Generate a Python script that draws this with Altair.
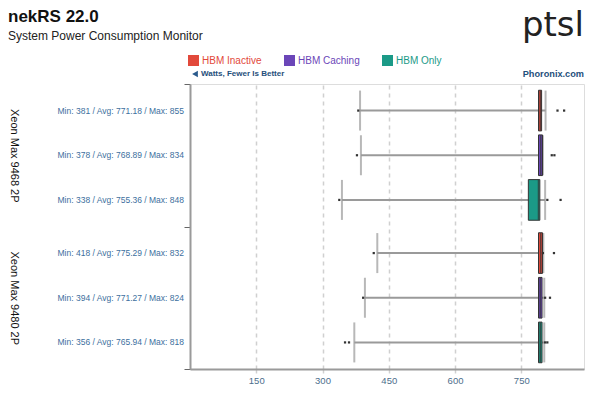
import altair as alt
import pandas as pd

# ---- data ----
systems = ["Xeon Max 9468 2P", "Xeon Max 9480 2P"]
series_names = ["HBM Inactive", "HBM Caching", "HBM Only"]
series_colors = ["#e2493b", "#6b46b8", "#1b9a87"]

row_system = ["Xeon Max 9468 2P"] * 3 + ["Xeon Max 9480 2P"] * 3
row_series = series_names * 2
mins = [381, 378, 338, 418, 394, 356]
avgs = [771.18, 768.89, 755.36, 775.29, 771.27, 765.94]
maxs = [855, 834, 848, 832, 824, 818]
whisk_lo = [385, 387, 344, 424, 396, 372]
q1 = [789, 789, 766, 789, 789, 789]
med = [793, 794, 789, 794, 793, 793]
q3 = [796, 798, 792, 798, 797, 797]
whisk_hi = [805, 799, 804, 800, 802, 802]
outliers = [
    [381, 832, 847],
    [378, 819, 825],
    [338, 809, 839],
    [416, 799, 824],
    [392, 804, 815],
    [351, 360, 804, 809],
]
x_ticks = [150, 300, 450, 600, 750]

labels = [f"Min: {a} / Avg: {b:.2f} / Max: {c}" for a, b, c in zip(mins, avgs, maxs)]

df = pd.DataFrame({
    "system": row_system, "series": row_series, "label": labels,
    "lo": whisk_lo, "q1": q1, "med": med, "q3": q3, "hi": whisk_hi,
})
out_df = pd.DataFrame(
    [{"system": row_system[i], "series": row_series[i], "v": v}
     for i, vals in enumerate(outliers) for v in vals]
)

FONT = "Liberation Sans"
GRID = "#d0d0d0"

xscale = alt.Scale(domain=[0, 892], nice=False, zero=False)
X = lambda f: alt.X(f"{f}:Q", scale=xscale, title=None,
                    axis=alt.Axis(values=x_ticks, grid=True, gridDash=[4, 4], gridColor=GRID,
                                  gridWidth=1.5, tickColor=GRID, tickWidth=1.5, tickSize=4,
                                  labelPadding=2, labelFont=FONT, labelFontSize=9.5,
                                  labelColor="#4d6e8c", domainColor="#9a9a9a", domainWidth=2))
Y = alt.Y("system:N", sort=systems, title=None,
          scale=alt.Scale(paddingInner=0, paddingOuter=0),
          axis=alt.Axis(labelAngle=90, labelAlign="center", labelBaseline="middle",
                        labelPadding=171, labelFont=FONT, labelFontSize=11, labelColor="#111",
                        tickBand="extent", tickSize=6, tickColor="#666", tickWidth=1,
                        domainColor="#9a9a9a", domainWidth=2, grid=False))
YO = alt.YOffset("series:N", sort=series_names,
                 scale=alt.Scale(paddingInner=0.09, paddingOuter=0.14))

base = alt.Chart(df).encode(y=Y, yOffset=YO)

whisker = base.mark_rule(color="#9a9a9a", strokeWidth=2).encode(x=X("lo"), x2="hi")
cap_lo = base.mark_tick(color="#9a9a9a", thickness=2, size=40).encode(x=X("lo"))
cap_hi = base.mark_tick(color="#9a9a9a", thickness=2, size=40).encode(x=X("hi"))
box = base.mark_bar(stroke="#333333", strokeWidth=1).encode(
    x=X("q1"), x2="q3",
    color=alt.Color("series:N", sort=series_names,
                    scale=alt.Scale(domain=series_names, range=series_colors),
                    legend=alt.Legend(
                        title=None, orient="none", legendX=-2, legendY=-29,
                        direction="horizontal", symbolType="square", symbolSize=121,
                        symbolStrokeWidth=0, labelFont=FONT, labelFontSize=10,
                        labelOffset=3, columnPadding=22,
                        labelColor=alt.ExprRef(
                            expr="datum.label == 'HBM Inactive' ? '#e2493b' : "
                                 "(datum.label == 'HBM Caching' ? '#6b46b8' : '#1b9a87')"))))
median = base.mark_tick(color="#333333", thickness=1.5, size=40).encode(x=X("med"))
pts = alt.Chart(out_df).mark_square(size=5, color="#333333", opacity=1).encode(
    x=X("v"), y=Y, yOffset=YO)
row_labels = base.mark_text(align="right", baseline="middle", font=FONT, fontSize=8.5,
                            color="#3d6f9e").encode(x=alt.value(-6), text="label:N")

note_df = pd.DataFrame({"a": [1]})
note = alt.Chart(note_df)
watts = note.mark_text(text="Watts, Fewer Is Better", align="left", baseline="middle",
                       font=FONT, fontSize=8, fontWeight="bold", color="#1f4f7b").encode(
    x=alt.value(11), y=alt.value(-10))
arrow = note.mark_point(shape="triangle-left", filled=True, size=45, color="#2a5a8c",
                        opacity=1).encode(x=alt.value(5), y=alt.value(-10))
phoronix = note.mark_text(text="Phoronix.com", align="right", baseline="middle",
                          font=FONT, fontSize=9.2, fontWeight="bold", color="#1f4f7b").encode(
    x=alt.value(394), y=alt.value(-10))
logo = note.mark_text(text="ptsl", align="right", baseline="alphabetic", font="DejaVu Sans",
                      fontSize=34, color="#222222").encode(x=alt.value(394), y=alt.value(-48))

chart = alt.layer(whisker, cap_lo, cap_hi, box, median, pts, row_labels,
                  watts, arrow, phoronix, logo).properties(
    width=394, height=285,
    title=alt.TitleParams(text="nekRS 22.0", subtitle="System Power Consumption Monitor",
                          anchor="start", frame="bounds", font=FONT, fontSize=17,
                          fontWeight="bold", color="#111111", subtitleFont=FONT,
                          subtitleFontSize=12, subtitleColor="#222222", subtitlePadding=5,
                          offset=-34),
    padding={"left": 0, "top": 0, "right": 5, "bottom": 5},
).configure_view(stroke=None).configure(background="white")

chart.save("out.html", embed_options={"renderer": "svg", "actions": False})
